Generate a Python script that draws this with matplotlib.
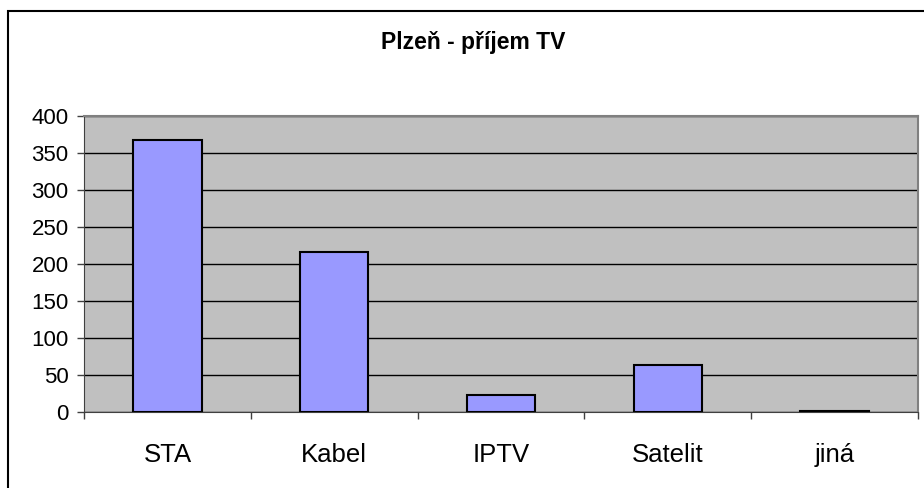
import numpy as np
import matplotlib.pyplot as plt
from matplotlib.patches import Rectangle

kategorie = ["STA", "Kabel", "IPTV", "Satelit", "jiná"]
hodnoty = [368, 216, 23, 64, 2]
y_ticks = [0, 50, 100, 150, 200, 250, 300, 350, 400]

plt.rcParams['font.family'] = ['Liberation Sans', 'DejaVu Sans']

fig = plt.figure(figsize=(9.24, 4.88), dpi=100)
ax = fig.add_axes([84 / 924, 1 - 412 / 488, 834 / 924, 296 / 488])

# okraj celeho grafu
fig.patches.append(Rectangle((8 / 924, -0.05), 1, 1.05 - 11 / 488, transform=fig.transFigure,
                             fill=False, edgecolor="black", linewidth=1.5))

x = np.arange(len(kategorie))
ax.set_facecolor("#C0C0C0")
ax.bar(x, hodnoty, width=0.41, color="#9999FF", edgecolor="black", linewidth=1.5, zorder=3)

ax.set_xlim(-0.5, len(kategorie) - 0.5)
ax.set_ylim(0, 400)
ax.set_yticks(y_ticks)
ax.tick_params(axis="y", labelsize=16, length=5, width=1, color="#404040", pad=6)
ax.grid(axis="y", color="black", linewidth=1, zorder=1)

ax.set_xticks(x)
ax.set_xticklabels(kategorie, fontsize=18.5)
ax.tick_params(axis="x", length=0, pad=22)
ax.set_xticks(np.arange(-0.5, len(kategorie)), minor=True)
ax.tick_params(axis="x", which="minor", length=5, width=1, color="#404040")

for s in ["top", "right"]:
    ax.spines[s].set_color("#808080")
    ax.spines[s].set_linewidth(1.5)
ax.spines["left"].set_color("#404040")
ax.spines["bottom"].set_color("#404040")

fig.text(473 / 924, 1 - 42 / 488, "Plzeň - příjem TV", ha="center", va="center",
         fontsize=16.5, fontweight="bold")

fig.savefig("out.png", dpi=100)
